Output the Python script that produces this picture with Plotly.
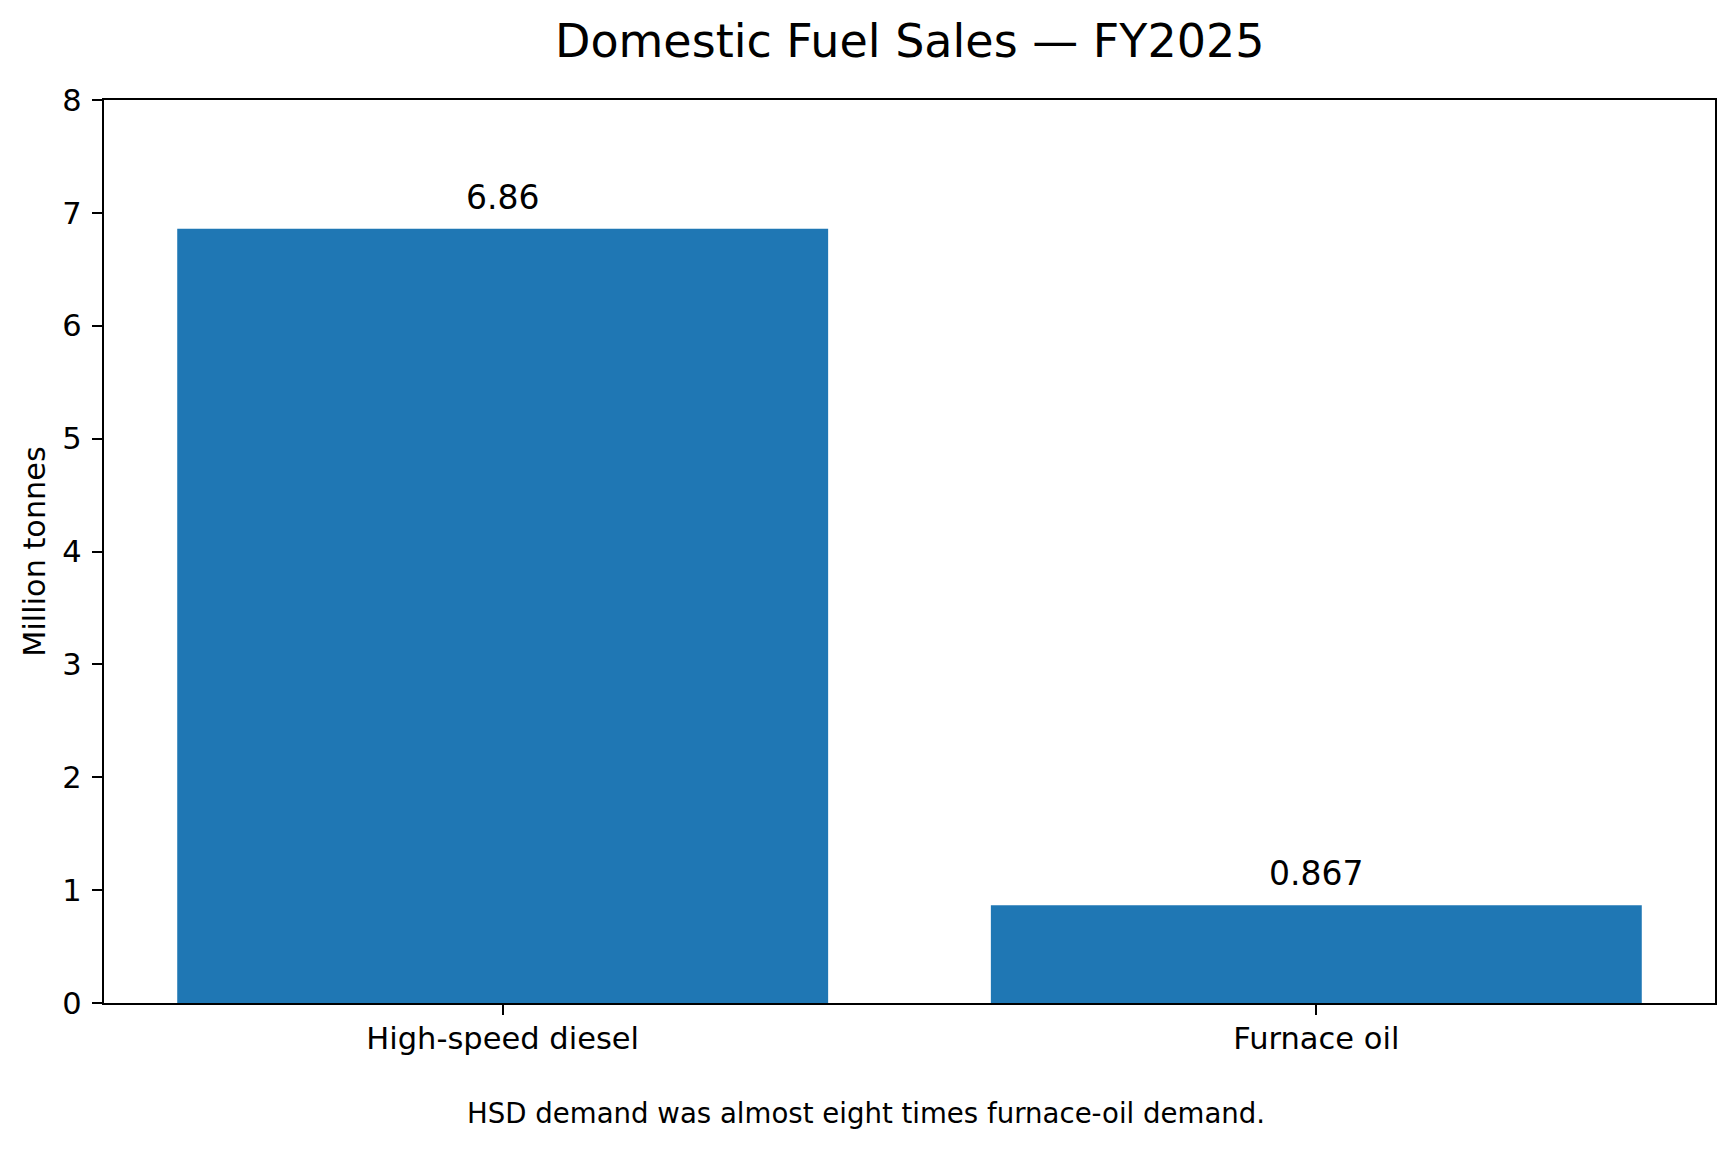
import plotly.graph_objects as go

# Data
fuels = ["High-speed diesel", "Furnace oil"]
sales_mt = [6.86, 0.867]
bar_labels = [f"{v:.3g}" for v in sales_mt]

title_text = "Domestic Fuel Sales — FY2025"
y_title = "Million tonnes"
caption = "HSD demand was almost eight times furnace-oil demand."

FONT = "DejaVu Sans"
BLUE = "#1f77b4"

W, H = 1736, 1149
L, R, T, B = 96, 29, 92, 154
plot_w = W - L - R

fig = go.Figure()
fig.add_trace(go.Bar(x=fuels, y=sales_mt, width=0.8, marker=dict(color=BLUE, line=dict(width=0)),
                     showlegend=False, hoverinfo="x+y"))

# value labels above each bar
for f, v, lab in zip(fuels, sales_mt, bar_labels):
    fig.add_annotation(x=f, y=v, text=lab, showarrow=False, yanchor="bottom",
                       yshift=10, font=dict(family=FONT, size=33, color="black"))

# title centred over the axes
fig.add_annotation(x=0.5, y=1, xref="paper", yref="paper", text=title_text, showarrow=False,
                   yanchor="bottom", yshift=30, font=dict(family=FONT, size=46, color="black"))

# caption centred on the whole figure
fig.add_annotation(x=(W / 2 - L - 10) / plot_w, y=-0.122, xref="paper", yref="paper", text=caption,
                   showarrow=False, yanchor="middle", font=dict(family=FONT, size=27.6, color="black"))

axis_common = dict(showline=True, linecolor="black", linewidth=2.4, mirror=True,
                   ticks="outside", ticklen=10, tickwidth=2.4, tickcolor="black",
                   showgrid=False, zeroline=False,
                   tickfont=dict(family=FONT, size=30.5, color="black"))

fig.update_xaxes(range=[-0.49, 1.49], ticklabelstandoff=-3, **axis_common)
fig.update_yaxes(range=[0, 8], dtick=1, tickformat="d", ticklabelstandoff=4,
                 title=dict(text=y_title, font=dict(family=FONT, size=30.3, color="black"), standoff=8),
                 **axis_common)

fig.update_layout(width=W, height=H, margin=dict(l=L, r=R, t=T, b=B, autoexpand=False),
                  paper_bgcolor="white", plot_bgcolor="white",
                  font=dict(family=FONT, color="black"))

fig.write_html("out.html")
